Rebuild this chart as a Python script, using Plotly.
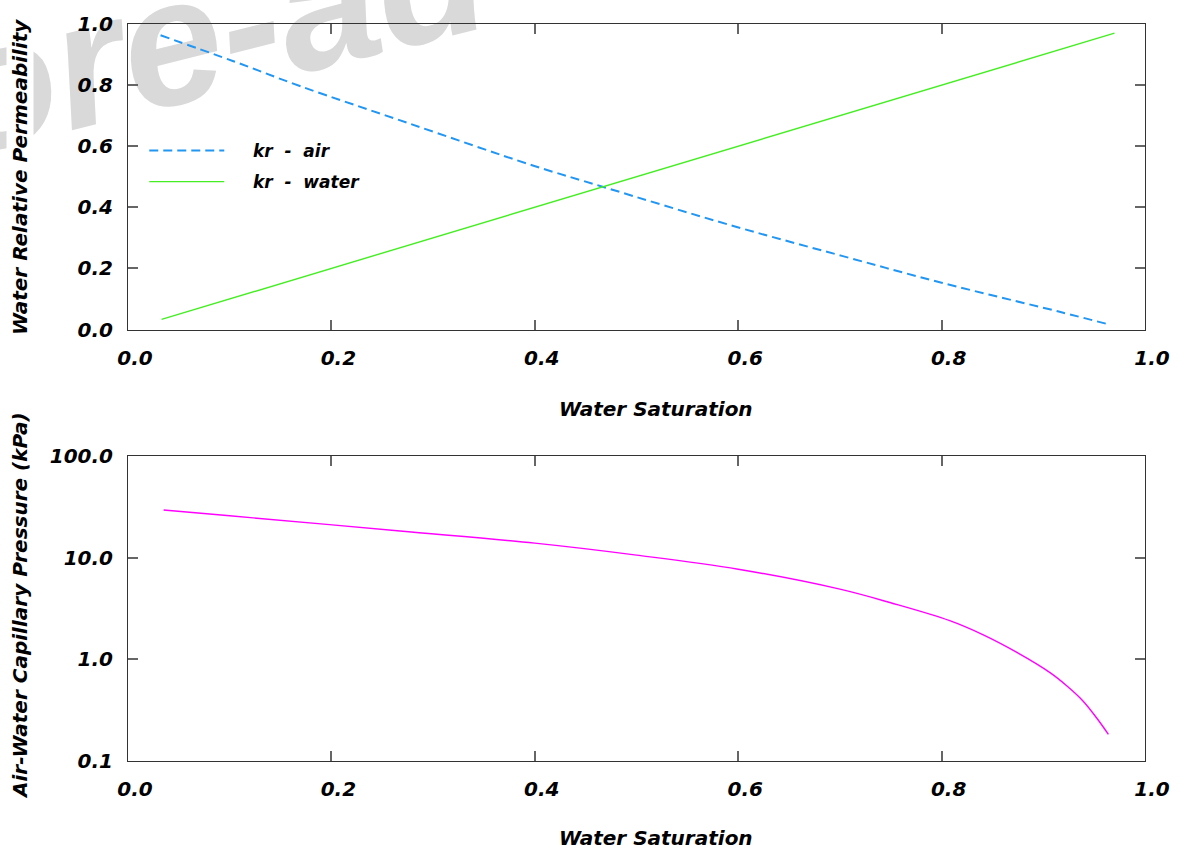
import plotly.graph_objects as go

# ---- data ----
sw_air = [0.032, 0.103, 0.169, 0.276, 0.398, 0.465, 0.596, 0.702, 0.800, 0.916, 0.964]
kr_air = [0.963, 0.879, 0.797, 0.675, 0.537, 0.469, 0.338, 0.241, 0.153, 0.058, 0.017]

sw_water = [0.033, 0.970]
kr_water = [0.033, 0.970]

sw_pc = [0.035, 0.100, 0.2675, 0.400, 0.500, 0.600, 0.700, 0.750, 0.808, 0.841, 0.874,
         0.9066, 0.923, 0.939, 0.9525, 0.964]
pc_kpa = [29.4, 25.8, 18.3, 13.9, 10.6, 7.7, 4.9, 3.6, 2.40, 1.74, 1.17,
          0.74, 0.55, 0.39, 0.265, 0.183]

x_ticks = [0.0, 0.2, 0.4, 0.6, 0.8, 1.0]
x_ticktext = ["0.0", "0.2", "0.4", "0.6", "0.8", "1.0"]
y1_ticks = [0.0, 0.2, 0.4, 0.6, 0.8, 1.0]
y1_ticktext = ["0.0", "0.2", "0.4", "0.6", "0.8", "1.0"]
y2_ticks = [0.1, 1, 10, 100]
y2_ticktext = ["0.1", "1.0", "10.0", "100.0"]

NB = "\u00a0"
legend_names = [NB * 4 + "kr" + NB * 2 + "-" + NB * 2 + "air",
                NB * 4 + "kr" + NB * 2 + "-" + NB * 2 + "water"]

FONT = "DejaVu Sans"
tickfont = dict(family=FONT, size=20, color="black", weight="bold", style="italic")

fig = go.Figure()
fig.add_trace(go.Scatter(x=sw_air, y=kr_air, mode="lines", name=legend_names[0],
                         line=dict(color="#2196F3", width=2, dash="9px,5px", shape="spline", smoothing=1.0),
                         xaxis="x", yaxis="y", legendgroup="a"))
fig.add_trace(go.Scatter(x=sw_water, y=kr_water, mode="lines", name=legend_names[1],
                         line=dict(color="#44EE22", width=1.4),
                         xaxis="x", yaxis="y", legendgroup="b"))
fig.add_trace(go.Scatter(x=sw_pc, y=pc_kpa, mode="lines", showlegend=False,
                         line=dict(color="#FF00FF", width=1.4, shape="spline", smoothing=1.0),
                         xaxis="x2", yaxis="y2"))

axis_common = dict(showline=True, linecolor="#333333", linewidth=1, mirror="ticks",
                   ticks="inside", ticklen=10, tickcolor="#666666", tickwidth=1.5,
                   showgrid=False, zeroline=False, tickfont=tickfont)

H = 852 - 24 - 91
top_lo = (761 - 329.5) / H

fig.update_layout(
    width=1181, height=852,
    margin=dict(l=128, r=36, t=24, b=91),
    paper_bgcolor="white", plot_bgcolor="rgba(0,0,0,0)",
    xaxis=dict(domain=[0, 1], range=[0, 1], anchor="y", tickvals=x_ticks, ticktext=x_ticktext,
               ticklabelstandoff=10, ticklabelshift=7, **axis_common),
    yaxis=dict(domain=[top_lo, 1], range=[0, 1], anchor="x", tickvals=y1_ticks, ticktext=y1_ticktext,
               ticklabelstandoff=10, **axis_common),
    xaxis2=dict(domain=[0, 1], range=[0, 1], anchor="y2", tickvals=x_ticks, ticktext=x_ticktext,
                ticklabelstandoff=10, ticklabelshift=7, **axis_common),
    yaxis2=dict(domain=[0, 305 / H], type="log", range=[-1, 2], anchor="x2",
                tickvals=y2_ticks, ticktext=y2_ticktext, ticklabelstandoff=10, **axis_common),
    showlegend=True,
    legend=dict(x=0.016, y=(761 - 133) / H, xanchor="left", yanchor="top",
                bgcolor="rgba(0,0,0,0)", traceorder="grouped", tracegroupgap=6,
                itemwidth=75,
                font=dict(family=FONT, size=17, color="black", weight="bold", style="italic")),
)

title_font = dict(family=FONT, size=20, color="black", weight="bold", style="italic")
annos = [
    dict(text="Water Saturation", x=(656 - 128) / 1017, y=(761 - 409) / H),
    dict(text="Water Saturation", x=(656 - 128) / 1017, y=(761 - 838) / H),
    dict(text="Water Relative Permeability", x=(20 - 128) / 1017, y=(761 - 177) / H, textangle=-90,
         bgcolor="white"),
    dict(text="Air-Water Capillary Pressure (kPa)", x=(20 - 128) / 1017, y=(761 - 606) / H, textangle=-90),
]
for a in annos:
    fig.add_annotation(xref="paper", yref="paper", showarrow=False, font=title_font,
                       xanchor="center", yanchor="middle", **a)

# light grey watermark behind everything
cx, cy = (210 - 128) / 1017, (761 - 14) / H
fig.add_shape(type="rect", xref="paper", yref="paper",
              x0=cx - 0.01, x1=cx + 0.01, y0=cy - 0.01, y1=cy + 0.01,
              line=dict(width=0), fillcolor="rgba(0,0,0,0)", layer="below",
              label=dict(text="ore-ad", textposition="middle center", textangle=-14,
                         font=dict(family="Liberation Sans", size=180, color="#D9D9D9",
                                   weight="bold", style="italic")))

fig.write_html("out.html", config={"displayModeBar": False},
               post_script="document.body.style.margin='0px';")
